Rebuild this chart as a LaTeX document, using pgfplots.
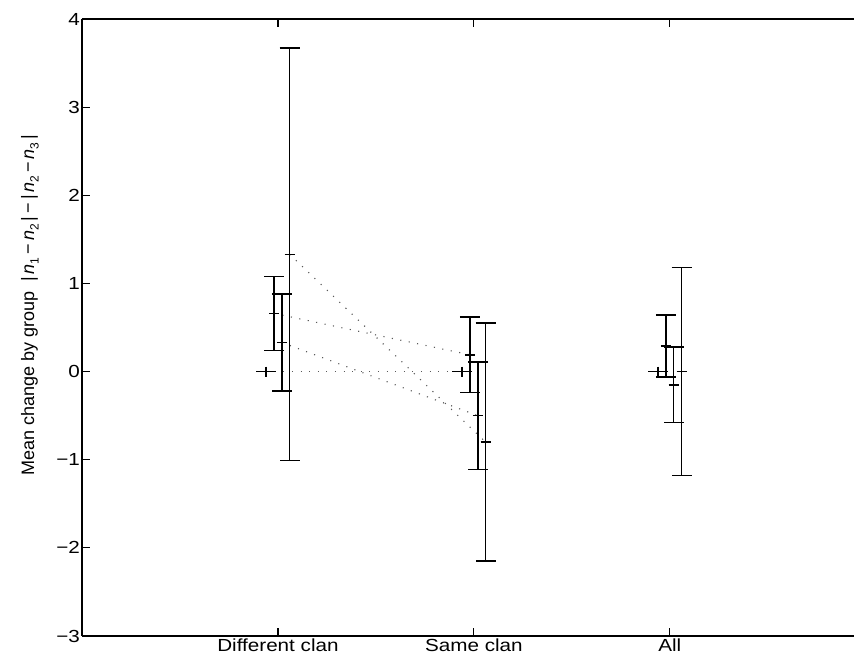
\documentclass[border=0pt]{standalone}
\usepackage{pgfplots}
\pgfplotsset{compat=1.18}
\usepackage{fontspec}
\setmainfont{Liberation Sans}
\newcommand{\hs}[1]{\scalebox{1.18}[1]{#1}}
\newcommand{\nn}[1]{\textit{n}\raisebox{-0.25em}{\fontsize{12bp}{14bp}\selectfont #1}}
\pgfplotsset{
  ebar/.style={black, only marks, line width=1.5bp, mark=+, mark size=5bp,
    mark options={line width=1.5bp, solid},
    error bars/.cd, y dir=both, y explicit,
    error mark options={rotate=90, mark size=10bp, line width=1.5bp},
    error bar style={line width=1.5bp}},
  dline/.style={black!65, line width=1.1bp, dash pattern=on 1.1bp off 7.5bp, no marks}
}
\begin{document}
\begin{tikzpicture}
\useasboundingbox (-82bp,-31bp) rectangle (772bp,636bp);
\begin{axis}[
  scale only axis, width=772bp, height=617bp,
  xmin=0, xmax=3.94, ymin=-3, ymax=4,
  axis x line*=box, axis y line*=left,
  xtick={1,2,3},
  xticklabels={\hs{Different clan},\hs{Same clan},\hs{All}},
  ytick={-3,-2,-1,0,1,2,3,4},
  yticklabels={\hs{−3},\hs{−2},\hs{−1},\hs{0},\hs{1},\hs{2},\hs{3},\hs{4}},
  tick align=inside, major tick length=8bp,
  every tick/.style={black, line width=1.2bp},
  axis line style={line width=1.4bp},
  tick label style={font=\fontsize{17.5bp}{21bp}\selectfont},
  yticklabel style={inner xsep=2bp},
  xticklabel style={inner ysep=3bp},
  ylabel={Mean change by group\ \ |\,\nn{1}\,−\,\nn{2}\,|\,−\,|\,\nn{2}\,−\,\nn{3}\,|},
  ylabel style={font=\fontsize{18bp}{21bp}\selectfont, at={(ticklabel cs:0.536)}, yshift=12bp},
]
% dotted connectors between Different clan and Same clan
\addplot[dline] coordinates {(0.94,0) (1.94,0)};
\addplot[dline] coordinates {(0.98,0.66) (1.98,0.19)};
\addplot[dline] coordinates {(1.02,0.33) (2.02,-0.50)};
\addplot[dline] coordinates {(1.06,1.33) (2.06,-0.80)};
% error bars
\addplot[ebar] coordinates {(0.94,0) +- (0,0) (1.94,0) +- (0,0) (2.94,0) +- (0,0)};
\addplot[ebar] coordinates {(0.98,0.66) +- (0,0.42) (1.98,0.19) +- (0,0.43) (2.98,0.29) +- (0,0.35)};
\addplot[ebar] coordinates {(1.02,0.33) +- (0,0.55) (2.02,-0.50) +- (0,0.61) (3.02,-0.15) +- (0,0.43)};
\addplot[ebar] coordinates {(1.06,1.33) +- (0,2.34) (2.06,-0.80) +- (0,1.35) (3.06,0.00) +- (0,1.18)};
\end{axis}
\end{tikzpicture}
\end{document}
